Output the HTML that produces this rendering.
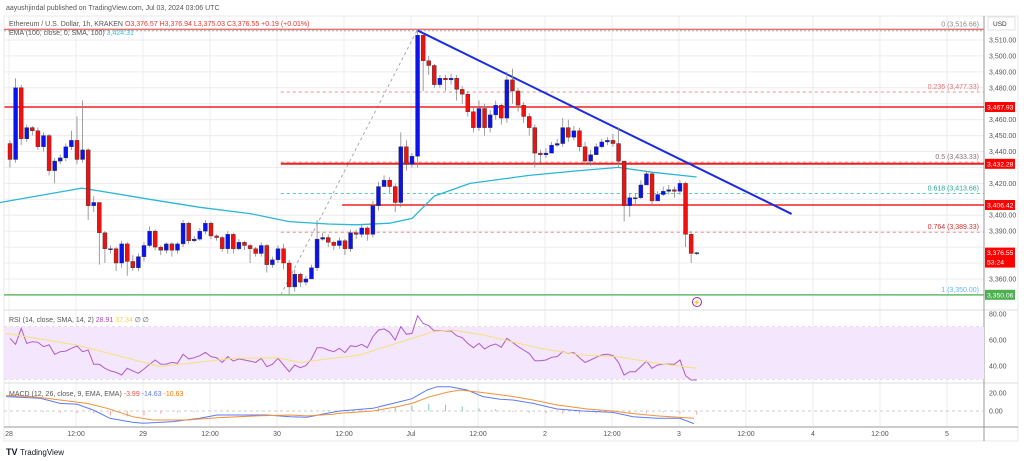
<!DOCTYPE html>
<html><head><meta charset="utf-8"><style>
html,body{margin:0;padding:0;background:#fff;}
svg{display:block;font-family:"Liberation Sans",sans-serif;}
</style></head><body>
<svg id="chart" width="1024" height="461" viewBox="0 0 1024 461">
<rect x="0" y="0" width="1024" height="461" fill="#fff"/>
<text x="6" y="10" font-size="7" fill="#555">aayushjindal published on TradingView.com, Jul 03, 2024 03:06 UTC</text>
<rect x="4" y="16" width="1014" height="425" fill="none" stroke="#e8e8ea"/>
<g id="grid"></g>
<rect x="4" y="327" width="980" height="52" fill="#f3e6fd"/>
<g id="overlays"></g>
<g id="candles"></g>
<g id="ind"></g>
<g id="axes"></g>
<text x="9" y="26" font-size="7" fill="#555">Ethereum / U.S. Dollar, 1h, KRAKEN <tspan fill="#e53935">O3,376.57  H3,376.94  L3,375.03  C3,376.55  +0.19 (+0.01%)</tspan></text>
<text x="9" y="35" font-size="7" fill="#555">EMA (100, close, 0, SMA, 100) <tspan fill="#26c6da">3,424.31</tspan></text>
<text x="9" y="322" font-size="7" fill="#555">RSI (14, close, SMA, 14, 2) <tspan fill="#ab47bc">28.91</tspan> <tspan fill="#e6d84a">37.34</tspan> ∅ ∅</text>
<text x="9" y="396" font-size="7" fill="#555">MACD (12, 26, close, 9, EMA, EMA) <tspan fill="#ef5350">-3.99</tspan> <tspan fill="#5b7cf5">-14.63</tspan> <tspan fill="#f57c00">-10.63</tspan></text>
<circle cx="697" cy="302" r="4.5" fill="#fff" stroke="#9c27b0" stroke-width="1"/>
<text x="697" y="304.5" font-size="6" fill="#9c27b0" text-anchor="middle">⚡</text>
<g>
<text x="6" y="455" font-size="9" font-weight="bold" fill="#131722">TV</text>
<text x="20" y="455" font-size="8" fill="#131722">TradingView</text>
</g>
</svg>
<script>
const closes=[3435,3480,3448,3455,3453,3443,3450,3428,3434,3436,3443,3447,3435,3441,3406,3408,3389,3379,3379,3370,3382,3371,3367,3374,3381,3390,3380,3378,3382,3378,3382,3395,3384,3385,3390,3395,3387,3386,3379,3388,3379,3383,3381,3379,3376,3381,3369,3372,3379,3370,3355,3363,3358,3360,3367,3385,3386,3383,3381,3384,3379,3389,3388,3392,3388,3406,3418,3422,3418,3408,3443,3432,3437,3513,3497,3494,3482,3486,3485,3486,3479,3476,3465,3455,3467,3455,3463,3469,3461,3485,3478,3469,3462,3455,3439,3438,3439,3444,3445,3455,3449,3453,3443,3434,3438,3443,3446,3447,3445,3434,3406,3411,3411,3419,3426,3409,3413,3415,3416,3415,3420,3388,3376,3376.5];
const firstOpen=3445;
const highs=[3447,3486,3482,3457,3456,3455,3452,3451,3436,3438,3445,3453,3462,3472,3442,3412,3408,3390,3381,3380,3384,3383,3375,3376,3383,3393,3391,3381,3383,3383,3383,3397,3396,3387,3392,3397,3396,3388,3387,3390,3389,3385,3384,3382,3380,3383,3382,3374,3381,3382,3372,3366,3364,3362,3369,3397,3389,3388,3384,3386,3385,3391,3391,3394,3393,3409,3421,3425,3424,3420,3452,3447,3439,3516,3514,3500,3495,3488,3488,3489,3488,3481,3478,3468,3472,3470,3466,3472,3470,3490,3492,3480,3471,3464,3457,3441,3442,3446,3448,3461,3460,3456,3455,3446,3441,3445,3448,3449,3451,3455,3434,3414,3414,3422,3428,3427,3415,3418,3419,3418,3422,3421,3390,3377];
const lows=[3430,3433,3444,3446,3450,3441,3440,3425,3420,3432,3434,3441,3432,3433,3397,3402,3369,3370,3376,3365,3367,3362,3365,3365,3371,3380,3378,3375,3376,3374,3376,3380,3382,3383,3384,3388,3385,3384,3377,3376,3376,3378,3378,3370,3374,3374,3364,3367,3370,3366,3350,3352,3355,3356,3360,3365,3384,3380,3378,3379,3375,3377,3385,3386,3384,3386,3403,3418,3414,3402,3405,3428,3430,3430,3478,3488,3480,3480,3478,3482,3472,3470,3462,3452,3453,3450,3452,3460,3457,3458,3470,3465,3458,3450,3430,3433,3436,3441,3443,3443,3446,3447,3440,3432,3431,3438,3442,3444,3443,3430,3396,3399,3406,3410,3420,3407,3409,3412,3413,3411,3413,3380,3370,3375];
const emaIdx=[-0.8,13.9,26,35,44,51,58,63,69,73,77,83.4,94,103,110,116,124];
const emaVal=[3408,3417,3410,3405,3401,3396,3394.5,3394,3395,3398,3412,3420,3425,3428,3430,3427,3424];
const rsi=[61.3,56.7,69,57.4,58.7,58.2,54.9,56.2,49,51,51.5,53.6,55.4,51,52.3,41.3,41.3,38.2,36.2,35.1,33.1,38.2,36.2,34.4,37.7,41.3,44.6,41.3,41.5,42.8,42.1,49,45.5,46.4,47.9,50.5,47.2,46.4,42.8,47.2,43.8,45.5,44.6,43.8,42.8,45.9,39.5,41.3,45.9,40.8,35.6,40.8,38.7,40.3,45.5,54.1,54.1,52.3,51,53.6,50.3,55.6,54.9,56.7,54.1,62.6,67.7,68.5,65.9,60,70.3,64.4,65.1,78.7,72.8,71,66.9,67.2,66.9,66.9,63.3,61.8,57.4,54.1,57.4,53.1,55.6,56.9,54.4,61.3,58.2,54.9,52.3,49.7,44.1,44.1,44.6,46.7,47.2,51,49.7,50.3,46.4,42.8,44.6,46.7,48.5,49,48,42.8,33.1,35.6,35.6,39.5,43.8,38.2,40.8,41.3,41.5,41.3,44.6,32.6,29.2,29.2];
const rsiMaIdx=[0.3,13,27.9,41,48.8,53,63.7,67.3,72.1,76.8,80.3,85.7,95.9,103,109.7,116.9,124];
const rsiMaVal=[65.1,56.1,39.5,45.9,46.4,42.8,48.5,53.6,60,66.4,67.7,63.9,53.6,48.5,47.2,42.1,38.2];
const macdIdx=[0.3,6.4,10,13,15.9,18.9,23,24.8,30.2,35,38.1,47,51.2,54.2,57.8,60.1,66,70.9,73,75.7,77.5,79.8,82.9,85.7,88.8,91.1,94.7,99,103.6,109,112.6,116.9,121,123.5];
const macdVal=[16,14.1,8.5,7.4,1.1,-8.1,-12.6,-13.7,-11.8,-8.1,-4.4,-4.4,-6.3,-7,-2.6,0,3,10.4,13.7,23.3,27,27,23.3,16,13,12.2,8.5,2.2,0,-1.5,-6.3,-8.1,-8.1,-14];
const sigIdx=[0.3,5.1,10,14.8,18.4,23,26.6,32.7,38.1,45.8,51.2,54.2,58.9,60.1,66,70.3,73,76.2,79.3,81.6,85.2,90,94.7,99,104.4,109,112,116.9,123.5];
const sigVal=[17.1,16,12.2,8.5,3,-6.3,-10,-10,-7.4,-5.2,-4.4,-5.5,-3.7,-2.6,0,4.8,8.5,15.9,20.8,23.3,20.8,17.1,12.2,6.7,2.2,0,-2.6,-5.5,-8.1];
const histIdx=[7,10,13,16,19,22,25,28,31,34,37,40,43,46,49,52,55,58,61,64,67,70,73,76,79,82,85,88,91,94,97,100,103,106,109,112,115,118,121,124];
const histVal=[-1,-2,-2.5,-3,-5,-6,-5,-3,-1.5,-1,0.5,0.8,0.5,0.4,0.3,-0.5,0.6,1,1.5,2,3,4,6,8,7,5,3,2,-1,-2,-2.5,-3,-3,-2.5,-2,-2.5,-2,-1.5,-3,-4];
const priceTicks=[3510,3500,3490,3480,3470,3460,3450,3440,3430,3420,3410,3400,3390,3380,3370,3360];
const priceTickShown=[true,true,true,true,false,true,true,true,false,true,false,true,true,false,false,true];
const timeLabels=["28","12:00","29","12:00","30","12:00","Jul","12:00","2","12:00","3","12:00","4","12:00","5"];
const fibRatios=["0","0.236","0.5","0.618","0.764","1"];
const fibPrices=[3516.66,3477.33,3433.33,3413.66,3389.33,3350.00];
const fibColors=["#e57373","#f28b82","#f28b82","#4dd0b0","#f28b82","#66bb6a"];
const fibText=["#888","#e57373","#8d6e7b","#26a69a","#d32f2f","#64b5f6"];
const hLinePrices=[3467.93,3432.28,3406.42];
const hLineStartIdx=[0,49.5,60.5];
const trendIdx=[74,141];
const trendPrice=[3516,3400.8];
const tagPrices=[3467.93,3432.28,3406.42,3376.55,3350.06];
const tagColors=["#f00","#f00","#f00","#f00","#4caf50"];
const rsiTicks=[80,60,40];
const macdTicks=[20,0];

const NS="http://www.w3.org/2000/svg";
const X0=10,STEP=5.583,PL=4,PR=984;
const xS=i=>X0+(i-1)*STEP;
const yP=p=>40+(3510-p)*1.593;
const yR=v=>353-(v-50)*1.3;
const yM=v=>411-v*0.9;
function mk(tag,attrs,parent){const e=document.createElementNS(NS,tag);for(const k in attrs)e.setAttribute(k,attrs[k]);parent.appendChild(e);return e;}
const grid=document.getElementById('grid'),ov=document.getElementById('overlays'),cg=document.getElementById('candles'),ind=document.getElementById('ind'),ax=document.getElementById('axes');

// grid
for(let k=0;k<timeLabels.length;k++){const x=xS(1+k*12)-1;
 const l=mk('line',{x1:x,x2:x,y1:16,y2:427,stroke:'#ececf0','stroke-width':1},grid);
 
 
 const t=mk('text',{x:x,y:436,'font-size':7,fill:'#555','text-anchor':'middle'},ax);t.textContent=timeLabels[k];
 
 }
for(let k=0;k<priceTicks.length;k++){const y=yP(priceTicks[k]);
 const l=mk('line',{x1:PL,x2:PR,y1:y,y2:y,stroke:'#ececf0','stroke-width':1},grid);
 
 
 if(priceTickShown[k]){const t=mk('text',{x:989,y:y+2.5,'font-size':7,fill:'#555'},ax);t.textContent=priceTicks[k].toLocaleString('en-US',{minimumFractionDigits:2});
 
 }}
[[310],[383],[427]].forEach(a=>{const l=mk('line',{x1:PL,x2:1018,y1:a[0],y2:a[0],stroke:a[0]==427?'#999':'#dcdce0','stroke-width':1},grid);
 
 });
{const l=mk('line',{x1:PR,x2:PR,y1:16,y2:441,stroke:'#999','stroke-width':1},grid);
 
 }
{const r=mk('rect',{x:988,y:17,width:27,height:13,fill:'#fff',stroke:'#e0e0e0',rx:1},ax);
 
 
 const t=mk('text',{x:993,y:26,'font-size':6.5,fill:'#333'},ax);t.textContent='USD';
 
 }

// RSI dashed lines & ticks
[70,50,30].forEach(v=>{const l=mk('line',{x1:PL,x2:PR,y1:yR(v),y2:yR(v),stroke:'#c9c0d3','stroke-dasharray':'3,3','stroke-width':1},grid);
 
 });
rsiTicks.forEach(v=>{const t=mk('text',{x:989,y:yR(v)+2.5,'font-size':7,fill:'#555'},ax);t.textContent=v.toFixed(2);
 
 });
{const l=mk('line',{x1:PL,x2:PR,y1:yM(0),y2:yM(0),stroke:'#ccc','stroke-dasharray':'3,3','stroke-width':1},grid);
 
 }
macdTicks.forEach(v=>{const t=mk('text',{x:989,y:yM(v)+2.5,'font-size':7,fill:'#555'},ax);t.textContent=v.toFixed(2);
 
 });

// fib
const fibX0=xS(49.5);
{const l=mk('line',{x1:fibX0,x2:xS(74),y1:yP(fibPrices[5]),y2:yP(fibPrices[0]),stroke:'#aaa','stroke-dasharray':'3,3','stroke-width':1},ov);
 
 }
for(let k=0;k<fibPrices.length;k++){const y=yP(fibPrices[k]);const full=(k==0||k==5);
 const l=mk('line',{x1:full?PL:fibX0,x2:PR,y1:y,y2:y,stroke:fibColors[k],'stroke-width':full?1.5:1,'stroke-dasharray':full?'':'3,3'},ov);
 
 
 const t=mk('text',{x:979,y:y-3,'font-size':7,fill:fibText[k],'text-anchor':'end'},ov);
 t.textContent=fibRatios[k]+' ('+fibPrices[k].toLocaleString('en-US',{minimumFractionDigits:2})+')';
 
 }
{const l=mk('line',{x1:PL,x2:PR,y1:yP(fibPrices[0])+1.5,y2:yP(fibPrices[0])+1.5,stroke:'#999','stroke-dasharray':'2,2','stroke-width':0.7},ov);
 
 }
for(let k=0;k<hLinePrices.length;k++){const y=yP(hLinePrices[k]);
 const l=mk('line',{x1:xS(hLineStartIdx[k]),x2:PR,y1:y,y2:y,stroke:'#f02020','stroke-width':k==1?2:1.5},ov);
 
 }
// EMA
{let d='';emaIdx.forEach((i,k)=>{d+=(k?'L':'M')+xS(i).toFixed(1)+','+yP(emaVal[k]).toFixed(1);});
 const p=mk('path',{d:d,fill:'none',stroke:'#29b6d8','stroke-width':1.3,'stroke-linejoin':'round'},ov);
 
 }
// trend line
{const l=mk('line',{x1:xS(trendIdx[0]),y1:yP(trendPrice[0]),x2:xS(trendIdx[1]),y2:yP(trendPrice[1]),stroke:'#1a2be0','stroke-width':2},ov);
 
 }

// candles
for(let i=0;i<closes.length;i++){const o=i?closes[i-1]:firstOpen,c=closes[i],x=xS(i+1);
 const up=c>=o;const col=up?'#0a12f0':'#f01010';
 const w=mk('line',{x1:x,x2:x,y1:yP(highs[i]),y2:yP(lows[i]),stroke:'#888','stroke-width':0.8},cg);
 
 
 const yt=yP(Math.max(o,c)),yb=yP(Math.min(o,c));
 const b=mk('rect',{x:x-2,y:yt,width:4,height:Math.max(1,yb-yt),fill:col,stroke:'#333','stroke-width':0.4},cg);
 
 }

// RSI
{let d='';rsi.forEach((v,k)=>{d+=(k?'L':'M')+xS(k+1).toFixed(1)+','+yR(v).toFixed(1);});
 const p=mk('path',{d:d,fill:'none',stroke:'#b05cc8','stroke-width':1},ind);
 
 
 let d2='';rsiMaIdx.forEach((i,k)=>{d2+=(k?'L':'M')+xS(i).toFixed(1)+','+yR(rsiMaVal[k]).toFixed(1);});
 const p2=mk('path',{d:d2,fill:'none',stroke:'#f3e27a','stroke-width':1},ind);
 
 }
// MACD
histIdx.forEach((i,k)=>{const v=histVal[k];const y0=yM(0),y1=yM(v);
 const r=mk('rect',{x:xS(i)-0.5,y:Math.min(y0,y1),width:1,height:Math.max(0.5,Math.abs(y1-y0)),fill:v>=0?'#80cbc4':'#f8a5a5'},ind);
 
 });
{let d='';macdIdx.forEach((i,k)=>{d+=(k?'L':'M')+xS(i).toFixed(1)+','+yM(macdVal[k]).toFixed(1);});
 const p=mk('path',{d:d,fill:'none',stroke:'#5b7cf5','stroke-width':1},ind);
 
 
 let d2='';sigIdx.forEach((i,k)=>{d2+=(k?'L':'M')+xS(i).toFixed(1)+','+yM(sigVal[k]).toFixed(1);});
 const p2=mk('path',{d:d2,fill:'none',stroke:'#f5903a','stroke-width':1},ind);
 
 }

// price tags
for(let k=0;k<tagPrices.length;k++){const y=yP(tagPrices[k]);const two=(k==3);
 const r=mk('rect',{x:985,y:y-5,width:30,height:two?20:10,fill:tagColors[k]},ax);
 
 
 const t=mk('text',{x:987,y:y+2.5,'font-size':6.8,fill:'#fff'},ax);t.textContent=tagPrices[k].toLocaleString('en-US',{minimumFractionDigits:2});
 
 
 if(two){const t2=mk('text',{x:987,y:y+12,'font-size':6.8,fill:'#fff'},ax);t2.textContent='53:24';
 
 }}
</script>
</body></html>
